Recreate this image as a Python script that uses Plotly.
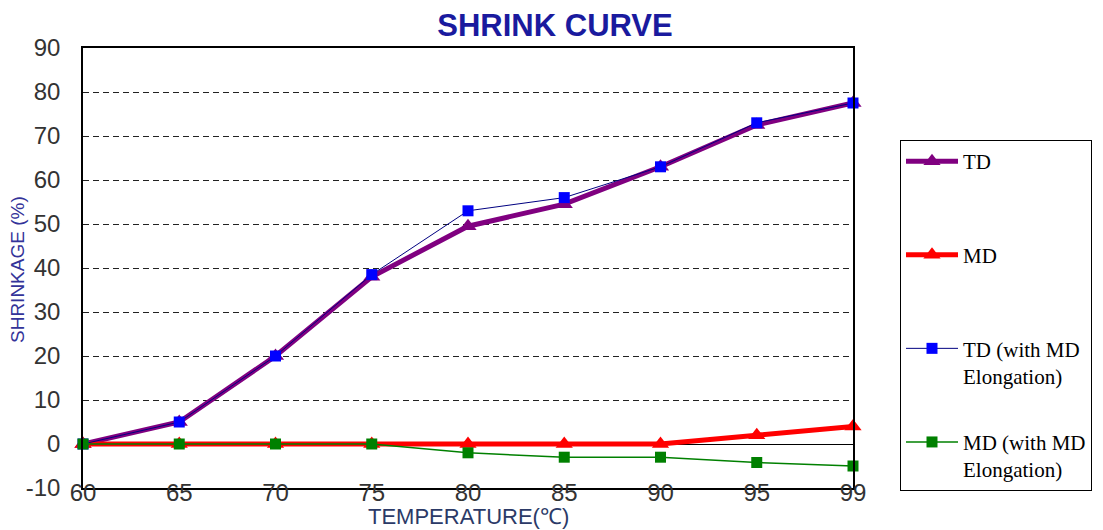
import plotly.graph_objects as go

temps = ["60", "65", "70", "75", "80", "85", "90", "95", "99"]
td = [0, 5, 20, 38, 49.5, 54.5, 63, 72.5, 77.5]
md = [0, 0, 0, 0, 0, 0, 0, 2, 4]
td_elong = [0, 5, 20, 38.5, 53, 56, 63, 73, 77.5]
md_elong = [0, 0, 0, 0, -2, -3, -3, -4.2, -5]

y_ticks = [-10, 0, 10, 20, 30, 40, 50, 60, 70, 80, 90]
y_tick_labels = ["-10", "0", "10", "20", "30", "40", "50", "60", "70", "80", "90"]

names = ["TD<br>\u00a0", "MD<br>\u00a0", "TD (with MD<br>Elongation)", "MD (with MD<br>Elongation)"]

fig = go.Figure()
fig.add_trace(go.Scatter(x=temps, y=td, name=names[0], legendgroup="a", mode="lines+markers",
                         line=dict(color="#800080", width=5),
                         marker=dict(symbol="triangle-up", size=15, color="#800080"), cliponaxis=False))
fig.add_trace(go.Scatter(x=temps, y=md, name=names[1], legendgroup="b", mode="lines+markers",
                         line=dict(color="#ff0000", width=5),
                         marker=dict(symbol="triangle-up", size=15, color="#ff0000"), cliponaxis=False))
fig.add_trace(go.Scatter(x=temps, y=td_elong, name=names[2], legendgroup="c", mode="lines+markers",
                         line=dict(color="#000080", width=1),
                         marker=dict(symbol="square", size=11, color="#0000ff"), cliponaxis=False))
fig.add_trace(go.Scatter(x=temps, y=md_elong, name=names[3], legendgroup="d", mode="lines+markers",
                         line=dict(color="#008000", width=1.5),
                         marker=dict(symbol="square", size=11, color="#008000"), cliponaxis=False))

# page body has an 8px margin, so the figure is 8px smaller and shifted accordingly
W, H = 1095, 522
fig.update_layout(
    width=W, height=H,
    margin=dict(l=75, r=W - 845, t=40, b=H - 480, autoexpand=False),
    paper_bgcolor="white", plot_bgcolor="white",
    font=dict(family="Liberation Sans, Arial, sans-serif", color="#333333"),
    title=dict(text="<b>SHRINK CURVE</b>", x=547 / W, xanchor="center", y=1 - 17 / H, yanchor="middle",
               font=dict(size=31, color="#1a1a9e", family="Liberation Sans, Arial, sans-serif")),
    showlegend=True,
    legend=dict(x=(900 - 83) / 770, xanchor="left", y=(488 - 140) / 440, yanchor="top",
                bgcolor="white", bordercolor="#000000", borderwidth=1,
                font=dict(family="Liberation Serif, Times New Roman, serif", size=21, color="#000000"),
                itemwidth=52, valign="top", tracegroupgap=36, traceorder="grouped"),
)

fig.update_xaxes(type="category", range=[0, 8], showgrid=False, showline=True, linecolor="#000000",
                 linewidth=1.5, mirror=True, ticks="", tickfont=dict(size=24, color="#333333"),
                 ticklabelstandoff=-18, zeroline=False, automargin=False)
fig.update_yaxes(range=[-10, 90], tickvals=y_ticks, ticktext=y_tick_labels,
                 showgrid=True, gridcolor="#222222", gridwidth=1,
                 griddash="6px,4px", showline=True, linecolor="#000000", linewidth=1.5, mirror=True,
                 zeroline=True, zerolinecolor="#000000", zerolinewidth=1,
                 ticks="outside", ticklen=16, tickcolor="rgba(0,0,0,0)",
                 tickfont=dict(size=24, color="#333333"), automargin=False)

fig.add_annotation(text="TEMPERATURE(℃)", xref="paper", yref="paper", x=(468 - 83) / 770,
                   y=(488 - 516) / 440, xanchor="center", yanchor="middle", showarrow=False,
                   font=dict(size=22, color="#2b3a67"))
fig.add_annotation(text="SHRINKAGE (%)", xref="paper", yref="paper", x=(17 - 83) / 770,
                   y=(488 - 270) / 440, xanchor="center", yanchor="middle", showarrow=False,
                   textangle=-90, font=dict(size=19, color="#333399"))

fig.write_html("out.html")
